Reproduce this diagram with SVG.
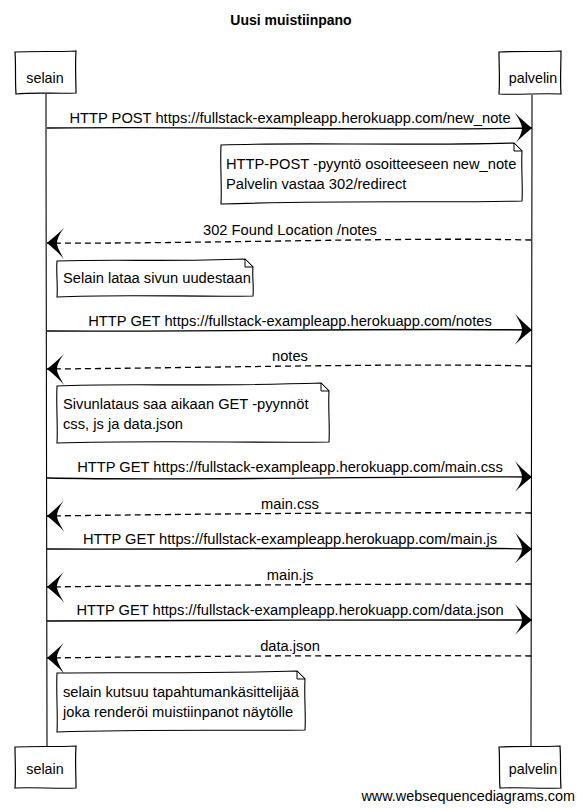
<svg xmlns="http://www.w3.org/2000/svg" width="582" height="811" viewBox="0 0 582 811">
<style>
text{font-family:"Liberation Sans",Arial,sans-serif;font-size:14.7px;fill:#000}
.title{font-weight:bold;font-size:14px}
.part{font-size:14.3px}
.box{fill:#fff;stroke:#000;stroke-width:1.2}
.life{fill:none;stroke:#000;stroke-width:1.1}
.msg{fill:none;stroke:#000;stroke-width:1.3}
.ret{fill:none;stroke:#000;stroke-width:1.3;stroke-dasharray:6,4}
.note{fill:#fff;stroke:#000;stroke-width:1.1}
.fold{fill:#fff;stroke:#000;stroke-width:1}
.lbl{text-anchor:middle}
.wm{font-size:14.4px}
</style>
<defs>
<marker id="ah" viewBox="-18 -17 19 34" refX="0" refY="0" markerWidth="19" markerHeight="34" markerUnits="userSpaceOnUse" orient="auto">
<path d="M0,0 C-5,-4 -12,-10 -17,-16 C-13,-9 -10,-4 -10,0 C-10,4 -13,10 -17,15 C-12,10 -5,4 0,0 Z" fill="#000" stroke="none"/>
</marker>
</defs>
<rect width="582" height="811" fill="#fff"/>
<text class="title lbl" x="291" y="25">Uusi muistiinpano</text>

<g id="lifelines">
<path class="life" d="M46,94 C46,300 47,500 47,746"/>
<path class="life" d="M532,95 C532,300 531,500 531,746"/>
</g>

<g id="selain-top">
<path class="box" d="M15,52 C35,51 55,52 76,51 C75,66 76,80 76,93 C56,94 36,92 16,94 C15,80 16,66 15,52 Z"/>
<text x="45" y="83" class="lbl part">selain</text>
</g>
<g id="palvelin-top">
<path class="box" d="M499,52 C520,51 540,52 561,51 C561,66 560,80 561,94 C540,93 520,95 499,94 C500,80 499,66 499,52 Z"/>
<text x="533" y="83" class="lbl part">palvelin</text>
</g>
<g id="selain-bottom">
<path class="box" d="M15,747 C35,746 55,747 76,746 C75,760 76,775 76,788 C56,789 36,787 15,788 C16,775 15,760 15,747 Z"/>
<text x="45" y="774" class="lbl part">selain</text>
</g>
<g id="palvelin-bottom">
<path class="box" d="M499,747 C520,746 540,747 560,746 C561,760 560,775 561,788 C540,789 520,787 500,788 C499,775 500,760 499,747 Z"/>
<text x="533" y="774" class="lbl part">palvelin</text>
</g>

<g id="connectors">
<path class="msg" marker-end="url(#ah)" d="M47,128 C200,126 380,131 532,128"/>
<path class="ret" marker-end="url(#ah)" d="M531,240 C400,237 200,244 47,243"/>
<path class="msg" marker-end="url(#ah)" d="M47,331 C200,332 380,328 532,330"/>
<path class="ret" marker-end="url(#ah)" d="M531,366 C400,363 200,368 47,369"/>
<path class="msg" marker-end="url(#ah)" d="M47,478 C200,481 380,476 532,477"/>
<path class="ret" marker-end="url(#ah)" d="M531,513 C400,512 200,514 47,516"/>
<path class="msg" marker-end="url(#ah)" d="M47,549 C200,550 380,546 532,549"/>
<path class="ret" marker-end="url(#ah)" d="M531,584 C400,584 200,585 47,587"/>
<path class="msg" marker-end="url(#ah)" d="M47,621 C200,621 380,619 532,620"/>
<path class="ret" marker-end="url(#ah)" d="M531,656 C400,655 200,656 47,658"/>
</g>

<g id="labels">
<text class="lbl" x="290" y="123">HTTP POST https://fullstack-exampleapp.herokuapp.com/new_note</text>
<text class="lbl" x="290" y="235">302 Found Location /notes</text>
<text class="lbl" x="290" y="326">HTTP GET https://fullstack-exampleapp.herokuapp.com/notes</text>
<text class="lbl" x="290" y="361">notes</text>
<text class="lbl" x="290" y="472">HTTP GET https://fullstack-exampleapp.herokuapp.com/main.css</text>
<text class="lbl" x="290" y="509">main.css</text>
<text class="lbl" x="290" y="544">HTTP GET https://fullstack-exampleapp.herokuapp.com/main.js</text>
<text class="lbl" x="290" y="580">main.js</text>
<text class="lbl" x="290" y="615">HTTP GET https://fullstack-exampleapp.herokuapp.com/data.json</text>
<text class="lbl" x="290" y="651">data.json</text>
</g>

<g id="note1">
<path class="note" d="M221,145 C300,142 400,146 514,143 L522,151 C521,168 523,185 522,201 C450,203 350,200 221,204 C222,185 220,165 221,145 Z"/>
<path class="fold" d="M514,143 L514,151 L522,151 Z"/>
<text x="226" y="169">HTTP-POST -pyyntö osoitteeseen new_note</text>
<text x="226" y="189">Palvelin vastaa 302/redirect</text>
</g>
<g id="note2">
<path class="note" d="M57,261 C120,259 170,262 245,259 L253,267 C252,276 254,286 253,296 C190,297 120,294 57,297 C58,285 56,272 57,261 Z"/>
<path class="fold" d="M245,259 L245,267 L253,267 Z"/>
<text x="63" y="283">Selain lataa sivun uudestaan</text>
</g>
<g id="note3">
<path class="note" d="M57,386 C120,383 200,387 321,383 L329,391 C328,408 330,425 329,442 C250,443 150,440 57,443 C58,425 56,405 57,386 Z"/>
<path class="fold" d="M321,383 L321,391 L329,391 Z"/>
<text x="63" y="409">Sivunlataus saa aikaan GET -pyynnöt</text>
<text x="63" y="429">css, js ja data.json</text>
</g>
<g id="note4">
<path class="note" d="M57,673 C120,672 200,674 297,671 L305,679 C304,696 306,714 305,730 C250,731 150,729 57,732 C58,714 56,692 57,673 Z"/>
<path class="fold" d="M297,671 L297,679 L305,679 Z"/>
<text x="63" y="697">selain kutsuu tapahtumankäsittelijää</text>
<text x="63" y="717">joka renderöi muistiinpanot näytölle</text>
</g>

<text class="wm" x="575" y="801" text-anchor="end">www.websequencediagrams.com</text>
</svg>
